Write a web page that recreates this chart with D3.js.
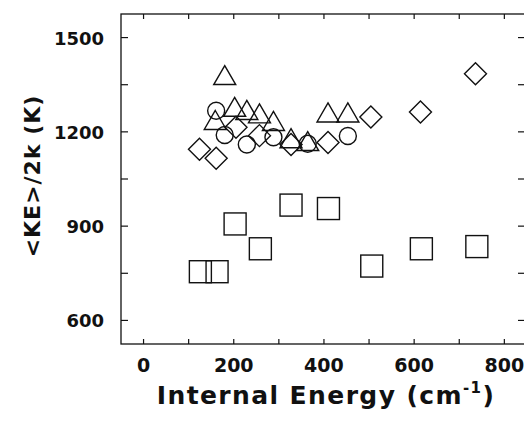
<!DOCTYPE html>
<html>
<head>
<meta charset="utf-8">
<script src="https://cdn.jsdelivr.net/npm/d3@7"></script>
<style>
  body { margin: 0; background: #fff; }
  text { font-family: "DejaVu Sans", sans-serif; font-weight: bold; fill: #111; }
</style>
</head>
<body>
<svg id="chart" width="524" height="428"></svg>
<script>
// values: [internal energy, <KE>/2k]
var squares = [[126, 755], [163, 755], [203, 907], [259, 828], [327, 967],
               [410, 956], [506, 773], [616, 828], [739, 835]];
var diamonds = [[124, 1145], [161, 1116], [205, 1215], [257, 1188], [327, 1160],
                [409, 1166], [504, 1247], [614, 1263], [736, 1385]];
var circles = [[161, 1267], [180, 1190], [229, 1160], [288, 1183], [364, 1162], [453, 1187]];
var triangles = [[180, 1376], [159, 1233], [202, 1275], [229, 1265], [257, 1254],
                 [288, 1230], [327, 1175], [364, 1166], [409, 1257], [453, 1257]];
var xTicks = [0, 200, 400, 600, 800];
var yTicks = [600, 900, 1200, 1500];

var svg = d3.select("#chart");
var pLeft = 121, pRight = 526, pTop = 14, pBottom = 344;

var x = d3.scaleLinear().domain([-50, 848]).range([pLeft, pRight]);
var y = d3.scaleLinear().domain([525, 1575]).range([pBottom, pTop]);

// frame
svg.append("rect")
    .attr("x", pLeft).attr("y", pTop)
    .attr("width", pRight - pLeft).attr("height", pBottom - pTop)
    .attr("fill", "none").attr("stroke", "#111").attr("stroke-width", 1.3);

// inward ticks
var xMinor = d3.range(0, 801, 100);
var yMinor = d3.range(600, 1501, 150);
var g = svg.append("g").attr("stroke", "#111").attr("stroke-width", 1.2);
xMinor.forEach(function(v) {
  g.append("line").attr("x1", x(v)).attr("x2", x(v)).attr("y1", pBottom).attr("y2", pBottom - 5);
  g.append("line").attr("x1", x(v)).attr("x2", x(v)).attr("y1", pTop).attr("y2", pTop + 5);
});
yMinor.forEach(function(v) {
  g.append("line").attr("x1", pLeft).attr("x2", pLeft + 7).attr("y1", y(v)).attr("y2", y(v));
  g.append("line").attr("x1", pRight - 1).attr("x2", pRight - 8).attr("y1", y(v)).attr("y2", y(v));
});

// tick labels
svg.selectAll(".xl").data(xTicks).enter().append("text")
    .attr("x", function(d) { return x(d); }).attr("y", 372)
    .attr("text-anchor", "middle").attr("font-size", 19)
    .text(function(d) { return d; });
svg.selectAll(".yl").data(yTicks).enter().append("text")
    .attr("x", 104).attr("y", function(d) { return y(d) + 7; })
    .attr("text-anchor", "end").attr("font-size", 18)
    .text(function(d) { return d; });

// axis titles
var xt = svg.append("text").attr("x", 326).attr("y", 404)
    .attr("text-anchor", "middle").attr("font-size", 25)
    .attr("letter-spacing", 1.4);
xt.append("tspan").text("Internal Energy (cm");
xt.append("tspan").attr("font-size", 15).attr("dy", -11).text("-1");
xt.append("tspan").attr("dy", 11).text(")");

svg.append("text")
    .attr("transform", "translate(40,176) rotate(-90)")
    .attr("text-anchor", "middle").attr("font-size", 22)
    .attr("letter-spacing", 1)
    .text("<KE>/2k (K)");

// markers
var marks = svg.append("g").attr("fill", "none").attr("stroke", "#111").attr("stroke-width", 1.4);

marks.selectAll(".sq").data(squares).enter().append("rect")
    .attr("x", function(d) { return x(d[0]) - 11; })
    .attr("y", function(d) { return y(d[1]) - 11; })
    .attr("width", 22).attr("height", 22);

marks.selectAll(".dm").data(diamonds).enter().append("path")
    .attr("d", function(d) {
      var cx = x(d[0]), cy = y(d[1]), r = 11;
      return "M" + cx + "," + (cy - r) + "L" + (cx + r) + "," + cy +
             "L" + cx + "," + (cy + r) + "L" + (cx - r) + "," + cy + "Z";
    });

marks.selectAll(".ci").data(circles).enter().append("circle")
    .attr("cx", function(d) { return x(d[0]); })
    .attr("cy", function(d) { return y(d[1]); })
    .attr("r", 8.5);

marks.selectAll(".tr").data(triangles).enter().append("path")
    .attr("d", function(d) {
      var cx = x(d[0]), cy = y(d[1]);
      return "M" + cx + "," + (cy - 11) + "L" + (cx + 11) + "," + (cy + 8) +
             "L" + (cx - 11) + "," + (cy + 8) + "Z";
    });
</script>
</body>
</html>
